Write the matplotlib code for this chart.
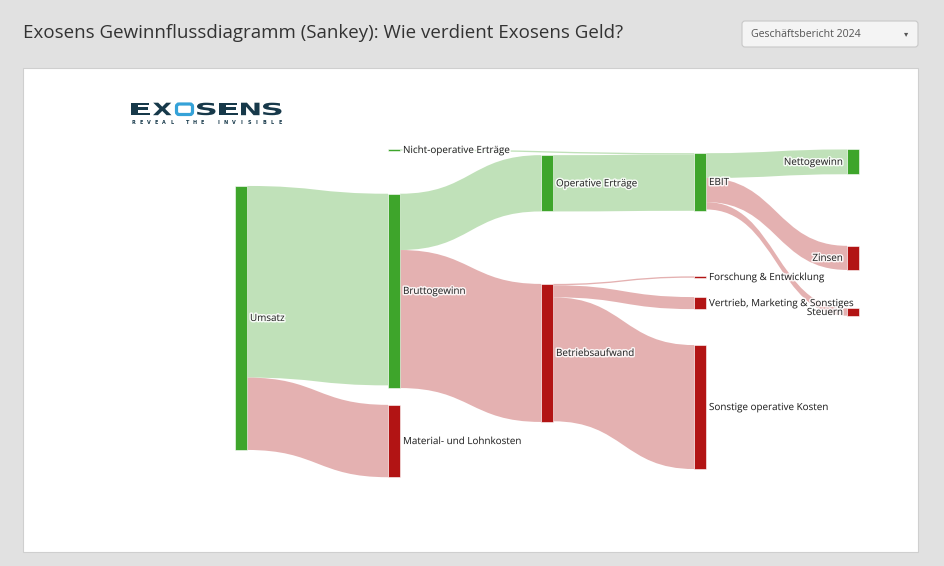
import numpy as np
import matplotlib
matplotlib.use("Agg")
import matplotlib.pyplot as plt
from matplotlib.path import Path
from matplotlib.patches import PathPatch, Rectangle, FancyBboxPatch
from matplotlib.textpath import TextPath
from matplotlib.font_manager import FontProperties
from matplotlib.transforms import Affine2D
import matplotlib.patheffects as pe

plt.rcParams['font.family'] = ['Open Sans', 'DejaVu Sans']

# Knoten (Mio. EUR, Geschaeftsbericht 2024)
nodes = ["Umsatz", "Bruttogewinn", "Material- und Lohnkosten",
         "Nicht-operative Erträge", "Operative Erträge", "Betriebsaufwand",
         "EBIT", "Forschung & Entwicklung", "Vertrieb, Marketing & Sonstiges",
         "Sonstige operative Kosten", "Nettogewinn", "Zinsen", "Steuern"]
node_kind = ["g", "g", "r", "g", "g", "r", "g", "r", "r", "r", "g", "r", "r"]

link_src = [0, 0, 1, 1, 3, 4, 5, 5, 5, 6, 6, 6]
link_tgt = [1, 2, 4, 5, 6, 6, 7, 8, 9, 10, 11, 12]
link_val = [286, 108, 84, 206, 2, 84, 2, 18, 185, 37, 36, 11]

# Layout (wie node.x / node.y in plotly)
node_col = [0, 1, 1, 1, 2, 2, 3, 3, 3, 3, 4, 4, 4]
node_y = [0.515, 0.433, 0.888, 0.006, 0.107, 0.621, 0.103, 0.391, 0.470,
          0.785, 0.042, 0.333, 0.497]

W, H = 945, 566
fig = plt.figure(figsize=(W / 100, H / 100), dpi=100)
fig.patch.set_facecolor("#e1e1e1")
ax = fig.add_axes([0, 0, 1, 1])
ax.set_xlim(0, W)
ax.set_ylim(H, 0)
ax.axis("off")

# Kopfzeile
ax.text(23, 32.5, "Exosens Gewinnflussdiagramm (Sankey): Wie verdient Exosens Geld?",
        fontsize=13.5, color="#333333", va="center", ha="left")
ax.add_patch(FancyBboxPatch((742, 21), 176, 26, boxstyle="round,pad=0,rounding_size=3",
                            facecolor="#f4f4f4", edgecolor="#c8c8c8", lw=0.8))
ax.text(751, 34.5, "Geschäftsbericht 2024", fontsize=7.6, color="#555555",
        va="center", ha="left")
ax.text(906, 34, "▾", fontsize=6, color="#555555", va="center", ha="center",
        family="DejaVu Sans")

# Panel
ax.add_patch(Rectangle((23, 68), 895, 484, facecolor="white", edgecolor="#cfcfcf", lw=0.8))

# Logo: breite Buchstaben ueber TextPath
navy = "#17394a"
fp = FontProperties(family="DejaVu Sans", weight="bold")
letters = "EXOSENS"
lx = np.linspace(131, 263, len(letters))
for idx, (ch, x) in enumerate(zip(letters, lx)):
    if idx == 2:
        ax.add_patch(FancyBboxPatch((x + 1.5, 104), 16, 10.5,
                                    boxstyle="round,pad=0,rounding_size=2.5",
                                    facecolor="none", edgecolor="#35a2d8", lw=2.3))
        continue
    tp = TextPath((0, 0), ch, size=10, prop=fp)
    ext = tp.get_extents()
    sx = 18.5 / ext.width
    sy = 12.5 / ext.height
    tr = Affine2D().translate(-ext.x0, -ext.y0).scale(sx, -sy).translate(x, 115.2)
    ax.add_patch(PathPatch(tr.transform_path(tp), facecolor=navy, edgecolor="none"))
sub = "REVEAL THE INVISIBLE"
sx_pos = np.linspace(133, 280, len(sub))
for ch, x in zip(sub, sx_pos):
    ax.text(x, 122.3, ch, fontsize=3.5, fontweight="bold", color=navy,
            ha="center", va="center", family="DejaVu Sans")

# Sankey
col_x = [235, 388, 541, 694, 847]
nw = 12
dom_top, dom_h = 148, 330
k = 264 / 394.0
green, red = "#3ea52b", "#b21414"
green_l, red_l = "#bde0b5", "#e3adad"

n = len(nodes)
vin = np.zeros(n)
vout = np.zeros(n)
for s, t, v in zip(link_src, link_tgt, link_val):
    vout[s] += v
    vin[t] += v
nval = np.maximum(vin, vout)
nh = nval * k
ncy = dom_top + np.array(node_y) * dom_h
ntop = ncy - nh / 2
nx = np.array([col_x[c] for c in node_col])

order = np.arange(len(link_val))
out_off = ntop.copy()
in_off = ntop.copy()
src_y0 = {}
tgt_y0 = {}
for i in sorted(order, key=lambda j: (link_src[j], ncy[link_tgt[j]])):
    src_y0[i] = out_off[link_src[i]]
    out_off[link_src[i]] += link_val[i] * k
for i in sorted(order, key=lambda j: (link_tgt[j], ncy[link_src[j]])):
    tgt_y0[i] = in_off[link_tgt[i]]
    in_off[link_tgt[i]] += link_val[i] * k

for i in order:
    s, t = link_src[i], link_tgt[i]
    w = link_val[i] * k
    x0 = nx[s] + nw
    x1 = nx[t]
    xm = (x0 + x1) / 2
    a0, b0 = src_y0[i], tgt_y0[i]
    verts = [(x0, a0), (xm, a0), (xm, b0), (x1, b0),
             (x1, b0 + w), (xm, b0 + w), (xm, a0 + w), (x0, a0 + w), (x0, a0)]
    codes = [Path.MOVETO, Path.CURVE4, Path.CURVE4, Path.CURVE4,
             Path.LINETO, Path.CURVE4, Path.CURVE4, Path.CURVE4, Path.CLOSEPOLY]
    col = green_l if node_kind[t] == "g" else red_l
    ax.add_patch(PathPatch(Path(verts, codes), facecolor=col, edgecolor="none",
                           alpha=0.95, zorder=2))

halo = [pe.withStroke(linewidth=2.2, foreground="white", alpha=0.85)]
last_col = max(node_col)
for i in range(n):
    col = green if node_kind[i] == "g" else red
    ax.add_patch(Rectangle((nx[i], ntop[i]), nw, max(nh[i], 1.2), facecolor=col,
                           edgecolor="white", lw=0.4, zorder=3))
    if node_col[i] == last_col:
        ax.text(nx[i] - 4, ncy[i] + 0.5, nodes[i], fontsize=7.1, color="#222222",
                ha="right", va="center", zorder=4, path_effects=halo)
    else:
        ax.text(nx[i] + nw + 3, ncy[i] + 0.5, nodes[i], fontsize=7.1, color="#222222",
                ha="left", va="center", zorder=4, path_effects=halo)

fig.savefig("out.png", dpi=100, facecolor=fig.get_facecolor())
